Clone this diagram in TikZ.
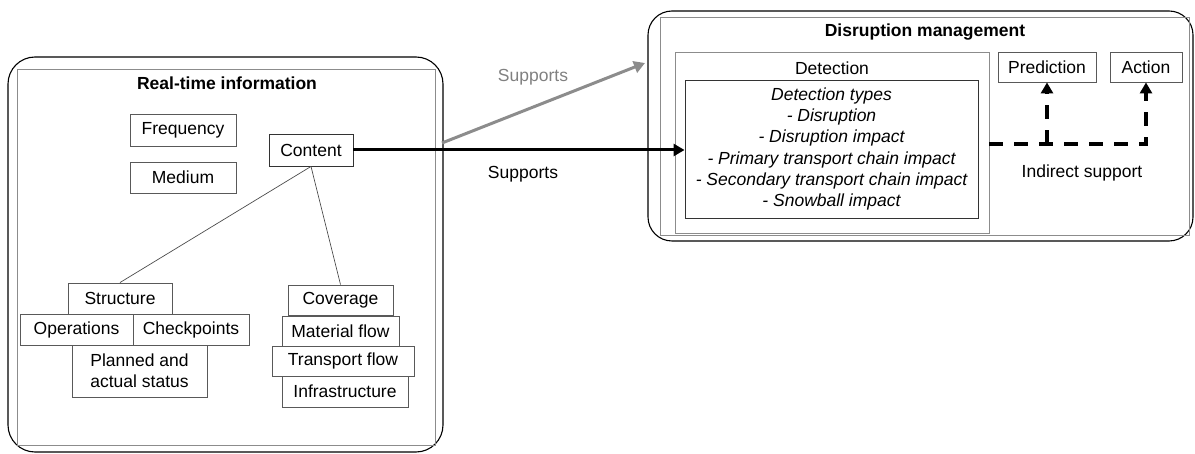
\documentclass[tikz,border=0pt]{standalone}
\usepackage{fontspec}
\setmainfont{Liberation Sans}
\usetikzlibrary{arrows.meta}
\begin{document}
\begin{tikzpicture}[x=1pt,y=-1pt,
  every node/.style={font=\fontsize{17.5}{21.2}\selectfont},
  box/.style={draw=black!65,line width=0.9pt,inner sep=0pt,rectangle},
  bigframe/.style={draw=black,line width=1.1pt,rounded corners=27pt},
  innerframe/.style={draw=black!45,line width=0.9pt},
  thin/.style={draw=black!70,line width=0.7pt},
  tip/.style={-{Triangle[length=11pt,width=12pt]}}]
\useasboundingbox (0,0) rectangle (1195,454);
% left frame
\draw[bigframe] (8,57) rectangle (443,452);
\draw[innerframe] (17,69) rectangle (435,445);
\node[font=\fontsize{17.5}{20}\selectfont\bfseries] (rtitle) at (227,83) {Real-time information};
\node[box,minimum width=106pt,minimum height=32pt] (freq) at (183,130) {Frequency};
\node[box,minimum width=106pt,minimum height=31pt] (medium) at (183,177.5) {Medium};
\node[box,draw=black!80,minimum width=84pt,minimum height=32pt] (content) at (311,150) {Content};
\node[box,minimum width=104pt,minimum height=31pt] (structure) at (120,298.5) {Structure};
\node[box,minimum width=113pt,minimum height=31pt] (operations) at (76.5,329.5) {Operations};
\node[box,minimum width=116pt,minimum height=31pt] (checkpoints) at (191,329.5) {Checkpoints};
\node[box,minimum width=135pt,minimum height=52pt,align=center] (planned) at (139.5,371) {Planned and\\actual status};
\node[box,minimum width=105pt,minimum height=30pt] (coverage) at (340.5,300) {Coverage};
\node[box,minimum width=117pt,minimum height=30pt] (material) at (340.5,331) {Material flow};
\node[box,minimum width=142pt,minimum height=30pt] (transport) at (343,361) {Transport flow};
\node[box,minimum width=126pt,minimum height=31pt] (infra) at (345,391.5) {Infrastructure};
\draw[thin] (content.south) -- (structure.north);
\draw[thin] (content.south) -- (coverage.north);
% right frame
\draw[bigframe,rounded corners=24pt] (648,11) rectangle (1193,241);
\draw[innerframe] (660,17) rectangle (1189,235);
\node[font=\fontsize{17.5}{20}\selectfont\bfseries] (dtitle) at (925,32) {Disruption management};
\node[box,draw=black!45,minimum width=314pt,minimum height=181pt] (detection) at (832,142.5) {};
\node (detlabel) at (832,68) {Detection};
\node[box,draw=black!80,minimum width=293pt,minimum height=138pt,align=center,font=\fontsize{17.5}{21.2}\selectfont\itshape] (dettypes) at (831.5,149)
  {Detection types\\- Disruption\\- Disruption impact\\- Primary transport chain impact\\- Secondary transport chain impact\\- Snowball impact};
\node[box,minimum width=98pt,minimum height=30pt] (prediction) at (1047,67) {Prediction};
\node[box,minimum width=72pt,minimum height=30pt] (action) at (1146,67) {Action};
% connectors
\coordinate (gstart) at (442,143);
\coordinate (gend) at (645,63);
\draw[tip,line width=3pt,black!45] (gstart) -- (gend);
\node[text=black!50] (sup1) at (533,77) {Supports};
\draw[tip,line width=3pt] (content.east) -- (content.east -| dettypes.west);
\node (sup2) at (523,174) {Supports};
\coordinate (dstart) at (989,144);
\draw[tip,line width=3.5pt,dash pattern=on 14pt off 11pt] (dstart) -| (action.south);
\draw[tip,line width=3.5pt,dash pattern=on 14pt off 11pt] (dstart -| prediction.south) -- (prediction.south);
\node (indirect) at (1082,173) {Indirect support};
\end{tikzpicture}
\end{document}
